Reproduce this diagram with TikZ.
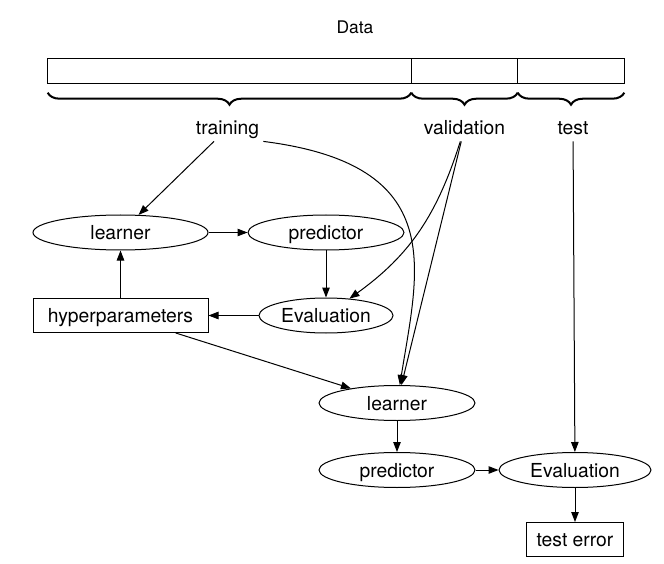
\documentclass[tikz,border=0pt]{standalone}
\usepackage{fontspec}
\setmainfont{TeX Gyre Heros}
\usetikzlibrary{shapes.geometric,arrows.meta,positioning,decorations.pathreplacing}
\tikzstyle{part}=[rectangle,draw=black,line width=1pt,minimum height=25pt,inner sep=0pt,outer sep=0pt]
\tikzstyle{word}=[font=\fontsize{19.3}{23}\selectfont,text height=15pt,text depth=3pt,inner sep=4pt]
\tikzstyle{model}=[ellipse,draw=black,line width=1pt,minimum width=156pt,minimum height=35pt,inner sep=0pt,font=\fontsize{19.3}{23}\selectfont,text height=16pt,text depth=2pt]
\tikzstyle{setting}=[rectangle,draw=black,line width=1pt,minimum height=34pt,inner sep=0pt,font=\fontsize{19.3}{23}\selectfont,text height=16pt,text depth=2pt]
\tikzstyle{arrow}=[line width=1pt,-{Triangle[length=10pt,width=7.5pt]}]
\tikzstyle{brace}=[decorate,decoration={brace,mirror,amplitude=12pt},line width=2pt]
\begin{document}
\begin{tikzpicture}[x=1pt,y=1pt]
            \useasboundingbox (0,0) rectangle (664,-564);
            \node (data)[word,font=\fontsize{17.4}{21}\selectfont] at (355,-27.5){Data};
            \node (trainpart)[part,minimum width=363.6pt] at (229.5,-70.8){};
            \node (valpart)[part,minimum width=106.4pt,right=0pt of trainpart]{};
            \node (testpart)[part,minimum width=106.6pt,right=0pt of valpart]{};
            \draw [brace] ([yshift=-9.4pt]trainpart.south west) -- ([yshift=-9.4pt]trainpart.south east);
            \draw [brace] ([yshift=-9.4pt]valpart.south west) -- ([yshift=-9.4pt]valpart.south east);
            \draw [brace] ([yshift=-9.4pt]testpart.south west) -- ([yshift=-9.4pt]testpart.south east);
            \node (training)[word,below=31.7pt of trainpart,xshift=-2pt]{training};
            \node (validation)[word,below=31.7pt of valpart]{validation};
            \node (test)[word,below=31.7pt of testpart,xshift=2pt]{test};
            \node (learnerA)[model,minimum width=175pt] at (120.5,-232.5){learner};
            \node (predictorA)[model,right=39pt of learnerA]{predictor};
            \node (hyper)[setting,minimum width=175pt,below=47.5pt of learnerA]{hyperparameters};
            \node (evalA)[model,minimum width=134pt,below=47pt of predictorA]{Evaluation};
            \node (learnerB)[model,below=51.5pt of evalA,xshift=71pt]{learner};
            \node (predictorB)[model,below=31pt of learnerB]{predictor};
            \node (evalB)[model,minimum width=152pt,right=23pt of predictorB]{Evaluation};
            \node (testerr)[setting,minimum width=97pt,below=34pt of evalB]{test error};
            \draw [arrow] (training) -- (learnerA);
            \draw [arrow] (training.south east) .. controls (450,-165) and (418,-270) .. (learnerB);
            \draw [arrow] (validation) .. controls (437,-215) and (410,-255) .. (evalA);
            \draw [arrow] (validation) -- (learnerB);
            \draw [arrow] (test) -- (evalB);
            \draw [arrow] (learnerA) -- (predictorA);
            \draw [arrow] (predictorA) -- (evalA);
            \draw [arrow] (evalA) -- (hyper);
            \draw [arrow] (hyper) -- (learnerA);
            \draw [arrow] (hyper) -- (learnerB);
            \draw [arrow] (learnerB) -- (predictorB);
            \draw [arrow] (predictorB) -- (evalB);
            \draw [arrow] (evalB) -- (testerr);
        \end{tikzpicture}
\end{document}
